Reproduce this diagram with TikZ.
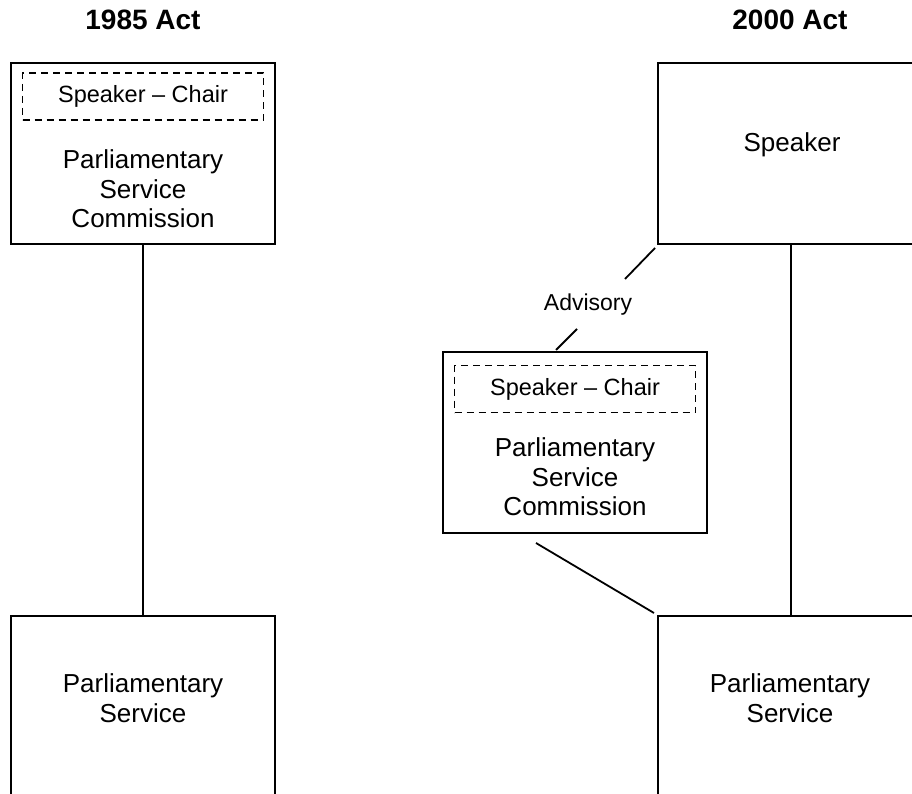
\documentclass[tikz,border=0pt]{standalone}
\usepackage{fontspec}
\setmainfont{Liberation Sans}
\begin{document}
\begin{tikzpicture}[x=1pt,y=-1pt,
  line width=1.8pt,
  orgbox/.style={draw, minimum width=264pt, minimum height=181pt, inner sep=0pt},
  chairbox/.style={draw, dashed, dash pattern=on 7pt off 5pt, line width=1.6pt, minimum width=241pt, minimum height=47pt, inner sep=0pt,
    font=\fontsize{23.5}{26}\selectfont},
  body/.style={align=center, font=\fontsize{26}{29.5}\selectfont, inner sep=0pt},
  heading/.style={font=\bfseries\fontsize{28}{32}\selectfont, inner sep=0pt},
  small/.style={font=\fontsize{23}{26}\selectfont, inner sep=0pt}]
\clip (0,0) rectangle (912,794);
\fill[white] (0,0) rectangle (912,794);

% column headings
\node[heading] (h1985) at (143,20) {1985 Act};
\node[heading] (h2000) at (790,20) {2000 Act};

% 1985 arrangement
\node[orgbox] (lt) at (143,153.5) {};
\node[chairbox] (ltchair) at (143,96.5) {Speaker -- Chair};
\node[body] (lttext) at (143,189) {Parliamentary\\Service\\Commission};
\node[orgbox] (lb) at (143,706.5) {};
\node[body] (lbtext) at (143,698) {Parliamentary\\Service};
\draw (lt.south) -- (lb.north);

% 2000 arrangement
\node[orgbox] (rt) at (790,153.5) {};
\node[body] (rttext) at (792,145) {Speaker};
\node[orgbox] (mid) at (575,442.5) {};
\node[chairbox] (midchair) at (575,389) {Speaker -- Chair};
\node[body] (midtext) at (575,477) {Parliamentary\\Service\\Commission};
\node[orgbox] (rb) at (790,706.5) {};
\node[body] (rbtext) at (790,698) {Parliamentary\\Service};

\draw (rt.south -| 791,0) -- (rb.north -| 791,0);

% advisory link
\coordinate (adv1) at (655,248);
\coordinate (adv2) at (625,279);
\coordinate (adv3) at (577,329);
\coordinate (adv4) at (556,350);
\node[small] (advlbl) at (588,305) {Advisory};
\draw (adv1) -- (adv2);
\draw (adv3) -- (adv4);

% commission to service link
\coordinate (lnk1) at (536,543);
\coordinate (lnk2) at (654,613);
\draw (lnk1) -- (lnk2);
\end{tikzpicture}
\end{document}
